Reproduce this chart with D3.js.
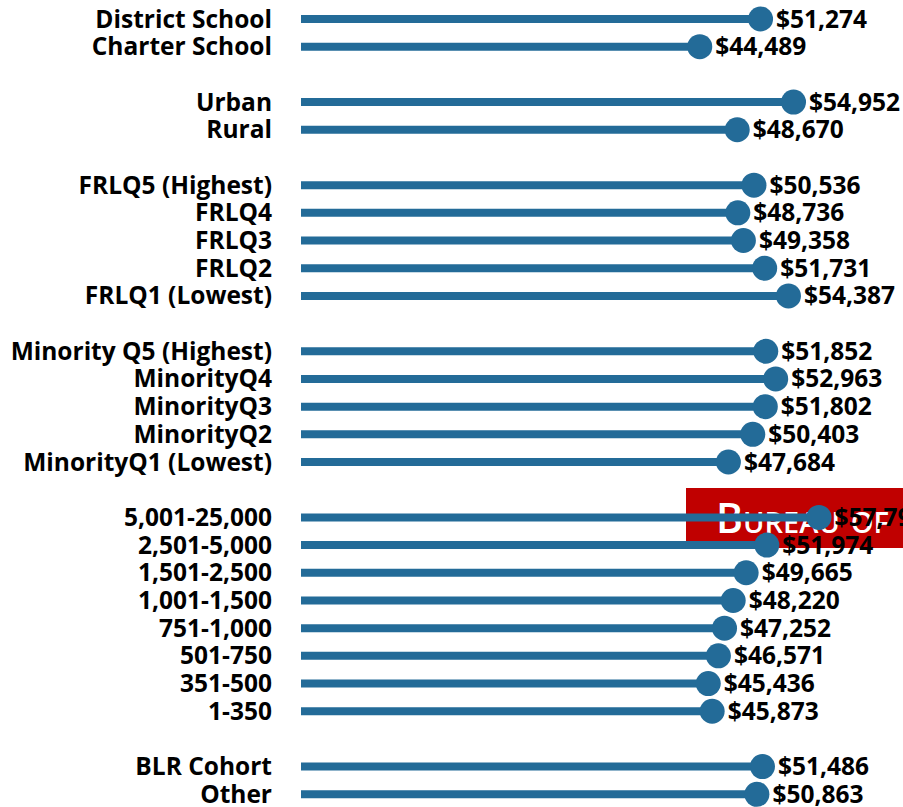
<!DOCTYPE html>
<html>
<head>
<meta charset="utf-8">
<script src="https://cdn.jsdelivr.net/npm/d3@7"></script>
<style>
    body { margin: 0; background: #fff; }
    svg { display: block; font-family: "Open Sans", Lato, sans-serif; }
</style>
</head>
<body>
<div id="chart"></div>
<script>
(function () {
    "use strict";

    // row labels, top to bottom ("" = empty spacer row between groups)
    const categories = [
        "District School", "Charter School", "",
        "Urban", "Rural", "",
        "FRLQ5 (Highest)", "FRLQ4", "FRLQ3", "FRLQ2", "FRLQ1 (Lowest)", "",
        "Minority Q5 (Highest)", "MinorityQ4", "MinorityQ3", "MinorityQ2", "MinorityQ1 (Lowest)", "",
        "5,001-25,000", "2,501-5,000", "1,501-2,500", "1,001-1,500", "751-1,000", "501-750", "351-500", "1-350", "",
        "BLR Cohort", "Other"
    ];

    // average salary per row (null for spacer rows)
    const salaries = [
        51274, 44489, null,
        54952, 48670, null,
        50536, 48736, 49358, 51731, 54387, null,
        51852, 52963, 51802, 50403, 47684, null,
        57790, 51974, 49665, 48220, 47252, 46571, 45436, 45873, null,
        51486, 50863
    ];

    const logoText = "Bureau of";

    const width = 903;
    const height = 807;
    const barColor = "#236b98";
    const fontSize = 24.5;

    let rows = categories.map((c, i) => ({ key: "r" + i, label: c, value: salaries[i] }));
    let data = rows.filter((d) => d.value !== null);

    let y = d3.scalePoint().domain(rows.map((d) => d.key)).range([19, 794.3]);
    let x = d3.scaleLinear().domain([0, 60000]).range([301, 301 + 60000 * 0.008963]);

    let svg = d3.select("#chart").append("svg").attr("width", width).attr("height", height);

    // logo block sitting behind the marks
    let logo = svg.append("g").attr("fill", "#c00000");
    logo.append("rect").attr("x", 686).attr("y", 488).attr("width", 240).attr("height", 53);
    logo.append("rect").attr("x", 770).attr("y", 540).attr("width", 160).attr("height", 8);
    logo.append("text")
        .attr("x", 716).attr("y", 533)
        .attr("fill", "#fff")
        .attr("font-size", 41)
        .attr("font-weight", 600)
        .style("font-variant", "small-caps")
        .text(logoText);

    // lollipop sticks
    svg.append("g")
        .selectAll("line")
        .data(data)
        .enter()
        .append("line")
        .attr("x1", x(0))
        .attr("x2", (d) => x(d.value))
        .attr("y1", (d) => y(d.key))
        .attr("y2", (d) => y(d.key))
        .attr("stroke", barColor)
        .attr("stroke-width", 8);

    // dots
    svg.append("g")
        .selectAll("circle")
        .data(data)
        .enter()
        .append("circle")
        .attr("cx", (d) => x(d.value))
        .attr("cy", (d) => y(d.key))
        .attr("r", 12.5)
        .attr("fill", barColor);

    // category labels
    svg.append("g")
        .selectAll("text")
        .data(data)
        .enter()
        .append("text")
        .attr("x", 272)
        .attr("y", (d) => y(d.key))
        .attr("dy", 8.5)
        .attr("text-anchor", "end")
        .attr("font-size", fontSize)
        .attr("font-weight", "bold")
        .text((d) => d.label);

    // value labels
    let fmt = d3.format("$,");
    svg.append("g")
        .selectAll("text")
        .data(data)
        .enter()
        .append("text")
        .attr("x", (d) => x(d.value) + 15.5)
        .attr("y", (d) => y(d.key))
        .attr("dy", 8.5)
        .attr("font-size", fontSize)
        .attr("font-weight", "bold")
        .text((d) => fmt(d.value));
})();
</script>
</body>
</html>
